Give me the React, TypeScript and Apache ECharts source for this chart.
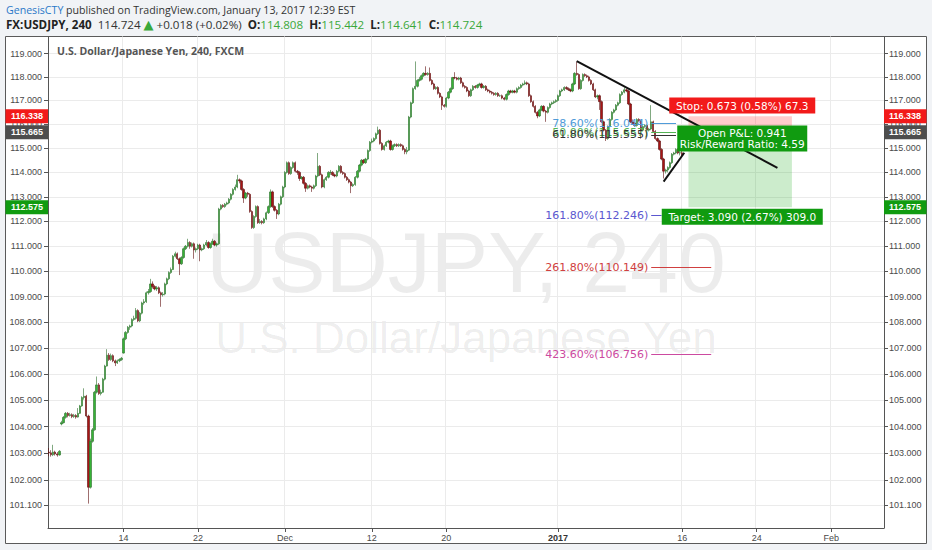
import { useEffect, useRef } from 'react';
import * as echarts from 'echarts';

// FX:USDJPY 4-hour bars: [open, close, low, high]
const candles: number[][] = [
  [103.05,103.02,102.9,103.2],[103.02,102.95,102.88,103.12],[102.95,103.05,102.9,103.32],[103.05,102.98,102.92,103.1],[102.98,102.94,102.88,103.05],[102.94,103.08,102.92,103.12],
  [104.1,104.15,104.05,104.22],[104.15,104.35,104.12,104.4],[104.35,104.5,104.3,104.55],[104.5,104.42,104.35,104.55],[104.42,104.45,104.38,104.52],[104.45,104.38,104.32,104.5],
  [104.38,104.42,104.33,104.48],[104.42,104.36,104.3,104.47],[104.36,104.5,104.34,104.7],[104.5,104.78,104.48,104.82],[104.78,105.1,104.75,105.15],[105.1,105.15,105.02,105.45],
  [105.15,104.4,104.35,105.2],[104.4,101.75,101.15,104.45],[101.75,103.45,101.7,103.55],[103.45,103.88,103.4,103.95],[103.88,105.3,103.85,105.35],[105.3,105.58,105.25,105.9],
  [105.58,105.25,105.2,105.65],[105.25,105.3,105.18,105.4],[105.3,105.8,105.28,105.85],[105.8,106.3,105.75,106.35],[106.3,106.72,106.28,106.95],[106.72,106.55,106.5,106.8],
  [106.55,106.7,106.5,106.78],[106.7,106.5,106.45,106.75],[106.5,106.42,106.3,106.55],[106.42,106.5,106.38,106.55],[106.5,106.55,106.45,106.6],[106.55,106.6,106.5,106.65],
  [106.8,107.35,106.78,107.4],[107.35,107.6,107.3,107.65],[107.6,107.8,107.55,107.85],[107.8,107.85,107.7,107.9],[107.85,108.1,107.8,108.15],[108.1,108.15,108.05,108.25],
  [108.15,108.45,108.1,108.55],[108.45,108.05,108.0,108.5],[108.05,108.35,108.0,108.4],[108.35,108.75,108.3,108.8],[108.75,108.8,108.68,108.9],[108.8,109.15,108.75,109.2],
  [109.15,109.2,109.08,109.3],[109.2,109.5,109.15,109.7],[109.5,109.4,109.32,109.6],[109.4,109.3,109.25,109.45],[109.3,109.35,109.22,109.42],[109.35,109.15,109.1,109.4],
  [109.15,109.07,108.6,109.2],[109.07,109.1,109.0,109.18],[109.1,109.5,109.05,109.55],[109.5,109.7,109.45,109.75],[109.7,109.95,109.65,110.0],[109.95,110.07,109.9,110.15],
  [110.07,110.6,110.05,110.65],[110.6,110.7,110.55,110.78],[110.7,110.5,110.45,110.75],[110.5,110.3,109.85,110.55],[110.3,110.55,110.25,110.6],[110.55,110.9,110.5,110.95],
  [110.9,111.0,110.85,111.05],[111.0,111.15,110.95,111.3],[111.15,111.0,110.9,111.2],[111.0,111.1,110.95,111.15],[111.1,110.85,110.5,111.15],[110.85,110.9,110.75,110.95],
  [110.9,111.05,110.85,111.1],[111.05,110.85,110.4,111.1],[110.85,110.9,110.8,110.95],[110.9,111.05,110.85,111.1],[111.05,111.15,111.0,111.25],[111.15,110.95,110.9,111.2],
  [110.95,111.1,110.9,111.15],[111.1,111.2,111.05,111.3],[111.2,111.05,111.0,111.25],[111.05,111.1,110.98,111.15],[111.1,112.5,111.05,112.55],[112.5,112.65,112.45,112.7],
  [112.65,112.6,112.55,112.7],[112.6,112.7,112.55,112.75],[112.7,112.75,112.65,112.8],[112.75,112.9,112.7,112.95],[112.9,113.1,112.85,113.15],[113.1,113.3,113.05,113.35],
  [113.3,113.4,113.25,113.5],[113.4,113.7,113.35,113.9],[113.7,113.65,113.55,113.75],[113.65,113.3,113.25,113.7],[113.3,112.95,112.75,113.35],[112.95,113.15,112.9,113.2],
  [113.15,113.1,113.0,113.2],[113.1,112.4,112.35,113.15],[112.4,111.75,111.7,112.45],[111.75,112.2,111.7,112.25],[112.2,112.6,112.15,112.65],[112.6,111.95,111.9,112.65],
  [111.95,112.0,111.9,112.1],[112.0,111.95,111.88,112.05],[111.95,112.1,111.9,112.15],[112.1,112.35,112.05,112.4],[112.35,112.6,112.3,112.65],[112.6,113.2,112.55,113.3],
  [113.2,112.6,112.55,113.25],[112.6,112.45,112.4,112.65],[112.45,112.3,112.1,112.5],[112.3,112.7,112.25,112.75],[112.7,113.0,112.65,113.05],[113.0,113.4,112.95,113.45],
  [113.4,114.0,113.35,114.05],[114.0,114.4,113.95,114.45],[114.4,113.95,113.9,114.45],[113.95,114.2,113.9,114.25],[114.2,114.4,114.15,114.45],[114.4,114.05,114.0,114.45],
  [114.05,114.0,113.9,114.1],[114.0,113.75,113.65,114.05],[113.75,113.8,113.7,113.85],[113.8,113.55,113.5,113.85],[113.55,113.35,113.2,113.6],[113.35,113.45,113.3,113.5],
  [113.45,113.4,113.35,113.5],[113.4,113.35,113.2,113.45],[113.35,113.45,113.3,113.5],[113.45,113.85,113.4,113.9],[113.85,114.25,113.8,114.8],[114.25,113.9,113.85,114.3],
  [113.9,113.4,113.35,113.95],[113.4,113.7,113.35,113.75],[113.7,113.8,113.65,113.85],[113.8,114.0,113.75,114.05],[114.0,114.0,113.9,114.1],[114.0,113.9,113.85,114.05],
  [113.9,113.85,113.8,113.95],[113.85,114.05,113.8,114.1],[114.05,114.25,114.0,114.3],[114.25,114.0,113.95,114.3],[114.0,113.95,113.9,114.05],[113.95,113.8,113.75,114.0],
  [113.8,113.7,113.65,113.85],[113.7,113.6,113.55,113.75],[113.6,113.45,113.15,113.65],[113.45,113.5,113.4,113.55],[113.5,113.8,113.45,113.85],[113.8,114.05,113.75,114.1],
  [114.05,114.3,114.0,114.35],[114.3,114.5,114.25,114.55],[114.5,114.4,114.35,114.55],[114.4,114.55,114.35,114.6],[114.55,114.9,114.5,114.95],[114.9,115.25,114.85,115.3],
  [115.25,115.3,115.2,115.4],[115.3,115.4,115.25,115.45],[115.4,115.6,115.35,115.65],[115.6,115.75,115.55,115.9],[115.75,115.2,115.15,115.8],[115.2,114.95,114.9,115.25],
  [114.95,115.1,114.9,115.15],[115.1,115.25,115.05,115.3],[115.25,115.3,115.2,115.35],[115.3,114.95,114.9,115.35],[114.95,115.1,114.9,115.15],[115.1,115.15,115.05,115.2],
  [115.15,115.1,115.05,115.2],[115.1,115.15,115.05,115.2],[115.15,115.1,115.05,115.2],[115.1,114.95,114.9,115.15],[114.95,114.85,114.75,115.0],[114.85,114.92,114.75,115.05],
  [114.92,116.3,114.88,116.35],[116.3,116.9,116.25,116.95],[116.9,117.5,116.85,117.55],[117.5,117.6,117.45,118.66],[117.6,117.85,117.55,117.9],[117.85,117.9,117.8,118.0],
  [117.9,118.05,117.85,118.1],[118.05,118.15,118.0,118.2],[118.15,118.1,118.05,118.45],[118.1,118.15,118.05,118.2],[118.15,117.85,117.8,118.4],[117.85,117.7,117.65,117.9],
  [117.7,117.5,117.45,117.75],[117.5,117.55,117.45,117.6],[117.55,117.3,117.25,117.6],[117.3,117.15,117.1,117.35],[117.15,116.8,116.6,117.2],[116.8,116.75,116.7,116.85],
  [116.75,117.1,116.7,117.15],[117.1,117.35,117.05,117.4],[117.35,117.5,117.3,117.55],[117.5,117.97,117.45,118.0],[117.97,117.95,117.9,118.2],[117.95,117.9,117.85,118.0],
  [117.9,117.95,117.85,118.0],[117.95,117.75,117.7,118.0],[117.75,117.6,117.55,117.8],[117.6,117.55,117.5,117.65],[117.55,117.4,117.35,117.6],[117.4,117.2,117.15,117.45],
  [117.2,117.45,117.15,117.5],[117.45,117.6,117.4,117.65],[117.6,117.55,117.5,117.65],[117.55,117.65,117.5,117.7],[117.65,117.7,117.6,117.75],[117.7,117.55,117.5,117.75],
  [117.55,117.6,117.5,117.65],[117.6,117.45,117.4,117.65],[117.45,117.4,117.35,117.5],[117.4,117.35,117.3,117.45],[117.35,117.3,117.25,117.4],[117.3,117.25,117.2,117.35],
  [117.25,117.3,117.2,117.35],[117.3,117.2,117.15,117.35],[117.2,117.2,117.15,117.25],[117.2,117.1,117.05,117.25],[117.1,117.05,117.0,117.15],[117.05,117.25,117.0,117.3],
  [117.25,117.4,117.2,117.45],[117.4,117.35,117.3,117.45],[117.35,117.4,117.3,117.45],[117.4,117.35,117.3,117.45],[117.35,117.5,117.3,117.55],[117.5,117.55,117.45,117.6],
  [117.55,117.65,117.5,117.7],[117.65,117.7,117.6,117.75],[117.7,117.75,117.65,117.85],[117.75,117.7,117.65,117.8],[117.7,117.2,117.15,117.75],[117.2,116.95,116.9,117.25],
  [116.95,116.75,116.7,117.0],[116.75,116.5,116.45,116.8],[116.5,116.35,116.25,116.55],[116.35,116.6,116.3,116.65],[116.6,116.75,116.55,116.8],[116.75,116.55,116.5,116.8],
  [116.55,116.5,116.1,116.6],[116.5,116.7,116.45,116.75],[116.7,116.85,116.65,116.9],[116.85,116.9,116.8,116.95],[116.9,116.95,116.85,117.0],[116.95,117.0,116.9,117.05],
  [117.0,117.2,116.95,117.25],[117.2,117.4,117.15,117.45],[117.4,117.45,117.35,117.5],[117.45,117.55,117.4,117.6],[117.55,117.5,117.45,117.6],[117.5,117.45,117.4,117.55],
  [117.45,117.4,117.35,117.5],[117.4,117.7,117.35,117.75],[117.7,118.15,117.65,118.2],[118.15,118.1,118.05,118.65],[118.1,117.5,117.45,118.15],[117.5,117.85,117.45,117.9],
  [117.85,118.1,117.8,118.15],[118.1,118.05,118.0,118.15],[118.05,118.0,117.95,118.1],[118.0,117.85,117.8,118.05],[117.85,117.7,117.65,117.9],[117.7,117.45,117.4,117.75],
  [117.45,117.15,117.1,117.5],[117.15,117.2,117.05,117.25],[117.2,116.95,116.6,117.25],[116.95,116.1,116.05,117.0],[116.1,115.75,115.7,116.15],[115.75,115.4,115.3,115.8],
  [115.4,115.9,115.35,115.95],[115.9,116.2,115.85,116.25],[116.2,116.5,116.15,116.55],[116.5,116.6,116.45,116.65],[116.6,116.8,116.55,116.85],[116.8,116.9,116.75,116.95],
  [116.9,117.25,116.85,117.3],[117.25,117.35,117.2,117.4],[117.35,117.45,117.3,117.55],[117.45,117.4,117.35,117.5],[117.4,116.85,116.8,117.45],[116.85,116.1,116.05,116.9],
  [116.1,116.05,116.0,116.2],[116.05,115.95,115.9,116.1],[115.95,116.2,115.9,116.25],[116.2,116.15,116.1,116.25],[116.15,115.75,115.4,116.2],[115.75,115.9,115.7,115.95],
  [115.9,115.95,115.85,116.0],[115.95,115.75,115.7,116.0],[115.75,115.8,115.7,115.85],[115.8,116.1,115.75,116.8],[116.1,115.7,115.65,116.15],[115.7,115.4,115.35,115.75],
  [115.4,115.3,115.25,115.45],[115.3,114.95,114.9,115.35],[114.95,114.55,114.5,115.0],[114.55,114.05,113.75,114.6],[114.05,114.1,113.95,114.15],[114.1,114.2,114.0,114.25],
  [114.2,114.4,114.15,114.45],[114.4,114.75,114.35,114.8],[114.75,114.8,114.7,114.85],[114.8,114.95,114.75,115.0],[114.95,114.8,114.75,115.0],[114.8,114.81,114.7,114.88],
  [114.808,114.724,114.641,115.442],
];

const totalBars = 404;
const xTickIndex = [36, 72, 114, 156, 192, 246, 306, 342, 378];
const xTickLabels = ['14', '22', 'Dec', '12', '20', '2017', '16', '24', 'Feb'];
const yTickPrices = [101.1, 102, 103, 104, 105, 106, 107, 108, 109, 110, 111, 112, 113, 114, 115, 116, 117, 118, 119];
const yRange = [100.263, 119.733];

const trendDown = [[255, 118.67], [352, 114.19]];
const trendUp = [[297, 113.62], [307, 114.81]];

const entryPrice = 115.665;
const stopPrice = 116.338;
const targetPrice = 112.575;
const positionBars = [309, 359];

const fibRatios = ['78.60%', '50.00%', '61.80%', '161.80%', '261.80%', '423.60%'];
const fibPrices = [116.044, 115.657, 115.555, 112.246, 110.149, 106.756];

const stopText = 'Stop: 0.673 (0.58%) 67.3';
const pnlText = 'Open P&L: 0.941\nRisk/Reward Ratio: 4.59';
const targetText = 'Target: 3.090 (2.67%) 309.0';
const boxAnchors = [[335, 116.785], [335, 115.4], [335, 112.19]];

const headerLine1 = '{a|GenesisCTY} published on TradingView.com, January 13, 2017 12:39 EST';
const headerLine2 =
  '{b|FX:USDJPY, 240}  114.724 {t|▲} +0.018 (+0.02%)  {b|O:}{g|114.808}  {b|H:}{g|115.442}  {b|L:}{g|114.641}  {b|C:}{g|114.724}';
const chartTitle = 'U.S. Dollar/Japanese Yen, 240, FXCM';

export default function App() {
  const ref = useRef<HTMLDivElement>(null);

  useEffect(() => {
    document.body.style.margin = '0';
    const el = ref.current as HTMLDivElement;
    const chart = echarts.init(el, null, { renderer: 'svg' });
    const L = Math.log;

    const labelMap: Record<number, string> = {};
    xTickIndex.forEach((idx, k) => {
      labelMap[idx] = xTickLabels[k];
    });
    const isTick = (i: number) => labelMap[i] !== undefined;
    const categories = Array.from({ length: totalBars }, (_, i) => 'bar' + i);
    const seriesData = candles.map((c) => c.map((v) => L(v)));
    const yTicks = yTickPrices.map((p) => L(p));

    const axisFont = 'Liberation Sans, Arial, sans-serif';
    const makeY = (position: 'left' | 'right') => ({
      type: 'value',
      position,
      min: L(yRange[0]),
      max: L(yRange[1]),
      axisLine: { show: true, lineStyle: { color: '#555', width: 1 } },
      axisTick: { show: true, length: 4, customValues: yTicks, lineStyle: { color: '#555' } },
      axisLabel: {
        customValues: yTicks,
        formatter: (v: number) => Math.exp(v).toFixed(3),
        fontSize: 9,
        color: '#4a4a4a',
        fontFamily: axisFont,
        margin: position === 'left' ? 6 : 5,
      },
      splitLine: { show: position === 'left', lineStyle: { color: '#ebebeb', width: 1 } },
    });

    const fibColors = ['#4f9bd9', '#55b455', '#333333', '#5b57cf', '#d04040', '#cc4aa0'];
    const fibStart = 291;
    const fibEnds = [303, 303, 303, 296, 320, 320];
    const fibLines = fibPrices.map((p, k) => [
      {
        coord: [fibStart, L(p)],
        lineStyle: { color: fibColors[k], width: 1, type: 'solid' },
        label: {
          show: true,
          position: 'start',
          distance: 3,
          formatter: fibRatios[k] + '(' + p.toFixed(3) + ')',
          color: fibColors[k],
          fontSize: 11,
          fontFamily: 'DejaVu Sans, Verdana, sans-serif',
        },
      },
      { coord: [fibEnds[k], L(p)] },
    ]);

    const trend = (pts: number[][]) => [
      { coord: [pts[0][0], L(pts[0][1])], lineStyle: { color: '#111', width: 2, type: 'solid' }, label: { show: false } },
      { coord: [pts[1][0], L(pts[1][1])] },
    ];

    const red = '#f21a1a';
    const green = '#109b10';
    const boxLabel = {
      show: true,
      position: 'inside',
      color: '#fff',
      fontSize: 10.5,
      lineHeight: 10.5,
      fontFamily: 'DejaVu Sans, Verdana, sans-serif',
    };

    chart.setOption({
      animation: false,
      backgroundColor: '#f1f3f6',
      grid: { left: 48, right: 48, top: 36.5, bottom: 22, containLabel: false },
      xAxis: {
        type: 'category',
        data: categories,
        boundaryGap: true,
        axisLine: { lineStyle: { color: '#555' } },
        axisTick: { show: true, alignWithLabel: true, length: 4, interval: (i: number) => isTick(i), lineStyle: { color: '#555' } },
        axisLabel: {
          interval: (i: number) => isTick(i),
          formatter: (_v: string, i: number) => {
            const t = labelMap[i] ?? '';
            return t === '2017' ? '{b|2017}' : t;
          },
          rich: { b: { fontWeight: 'bold', fontSize: 9, fontFamily: axisFont, color: '#333' } },
          fontSize: 9,
          color: '#4a4a4a',
          fontFamily: axisFont,
          margin: 5,
        },
        splitLine: { show: true, interval: (i: number) => isTick(i), lineStyle: { color: '#ebebeb' } },
      },
      yAxis: [makeY('left'), makeY('right')],
      series: [
        {
          type: 'candlestick',
          data: seriesData,
          barWidth: 1.8,
          itemStyle: {
            color: '#36b336',
            color0: '#a81515',
            borderColor: '#2b6f2b',
            borderColor0: '#5e0d0d',
            borderWidth: 0.6,
          },
          markArea: {
            silent: true,
            data: [
              [{ coord: [positionBars[0], L(stopPrice)], itemStyle: { color: 'rgba(255,0,0,0.2)' } }, { coord: [positionBars[1], L(entryPrice)] }],
              [{ coord: [positionBars[0], L(entryPrice)], itemStyle: { color: 'rgba(0,160,0,0.2)' } }, { coord: [positionBars[1], L(targetPrice)] }],
            ],
          },
          markLine: {
            silent: true,
            symbol: ['none', 'none'],
            data: [...fibLines, trend(trendDown), trend(trendUp)],
          },
          markPoint: {
            silent: true,
            data: [
              {
                coord: [boxAnchors[0][0], L(boxAnchors[0][1])],
                symbol: 'rect',
                symbolSize: [146, 16],
                itemStyle: { color: red },
                label: { ...boxLabel, formatter: stopText },
              },
              {
                coord: [boxAnchors[1][0], L(boxAnchors[1][1])],
                symbol: 'rect',
                symbolSize: [130, 26],
                itemStyle: { color: green },
                label: { ...boxLabel, formatter: pnlText },
              },
              {
                coord: [boxAnchors[2][0], L(boxAnchors[2][1])],
                symbol: 'rect',
                symbolSize: [161, 16],
                itemStyle: { color: green },
                label: { ...boxLabel, formatter: targetText },
              },
            ],
          },
        },
      ],
    });

    const yPix = (p: number) => chart.convertToPixel({ yAxisIndex: 0 }, L(p)) as unknown as number;
    const tags = [
      { p: stopPrice, c: red },
      { p: entryPrice, c: '#4d4d4d' },
      { p: targetPrice, c: green },
    ];
    const tagEls: any[] = [];
    tags.forEach((t) => {
      const y = yPix(t.p);
      [
        [5.5, 42.5, 27],
        [884, 42.5, 905],
      ].forEach(([x, w, cx]) => {
        tagEls.push({
          type: 'rect',
          z: 10,
          shape: { x, y: y - 7, width: w, height: 14 },
          style: { fill: t.c },
        });
        tagEls.push({
          type: 'text',
          z: 11,
          style: {
            text: t.p.toFixed(3),
            x: cx,
            y,
            align: 'center',
            verticalAlign: 'middle',
            fill: '#fff',
            fontSize: 9,
            fontWeight: 'bold',
            fontFamily: axisFont,
          },
        });
      });
    });

    const hdrFont = 'Open Sans, sans-serif';
    chart.setOption({
      graphic: [
        {
          type: 'rect',
          z: -10,
          shape: { x: 5.5, y: 36.5, width: 921, height: 507 },
          style: { fill: '#ffffff', stroke: '#5a5a5a', lineWidth: 1 },
        },
        {
          type: 'text',
          z: -5,
          style: {
            text: 'USDJPY, 240',
            x: 466,
            y: 262,
            align: 'center',
            verticalAlign: 'middle',
            fill: 'rgba(0,0,0,0.075)',
            fontSize: 86,
            fontFamily: axisFont,
          },
        },
        {
          type: 'text',
          z: -5,
          style: {
            text: 'U.S. Dollar/Japanese Yen',
            x: 466,
            y: 337,
            align: 'center',
            verticalAlign: 'middle',
            fill: 'rgba(0,0,0,0.075)',
            fontSize: 44,
            fontFamily: axisFont,
          },
        },
        {
          type: 'text',
          style: {
            text: headerLine1,
            x: 6,
            y: 10,
            verticalAlign: 'middle',
            fill: '#333',
            fontSize: 10.6,
            fontFamily: hdrFont,
            rich: { a: { fill: '#2a78c8', fontSize: 10.6, fontFamily: hdrFont } },
          },
        },
        {
          type: 'text',
          style: {
            text: headerLine2,
            x: 6,
            y: 24.5,
            verticalAlign: 'middle',
            fill: '#333',
            fontSize: 11.6,
            fontFamily: hdrFont,
            rich: {
              b: { fill: '#222', fontWeight: 'bold', fontSize: 11.6, fontFamily: hdrFont },
              g: { fill: '#3aa83a', fontSize: 11.6, fontFamily: hdrFont },
              t: { fill: '#3aa83a', fontSize: 13, fontFamily: 'DejaVu Sans, sans-serif' },
            },
          },
        },
        {
          type: 'text',
          z: 5,
          style: {
            text: chartTitle,
            x: 57,
            y: 50.5,
            verticalAlign: 'middle',
            fill: '#555',
            fontSize: 10.5,
            fontWeight: 'bold',
            fontFamily: hdrFont,
          },
        },
        ...tagEls,
      ],
    });

    return () => {
      chart.dispose();
    };
  }, []);

  return <div ref={ref} style={{ width: 932, height: 550 }} />;
}
